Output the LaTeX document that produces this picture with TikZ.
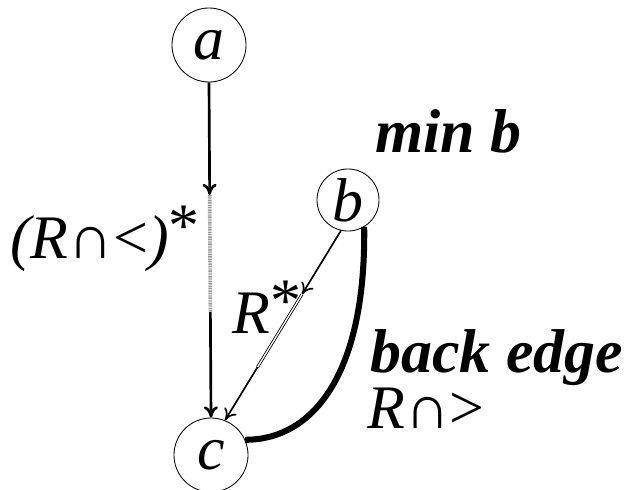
\documentclass[tikz,border=0pt]{standalone}
\usepackage{fontspec}
\setmainfont{Liberation Serif}
\usetikzlibrary{arrows.meta,calc,positioning}

\newcommand{\cp}{\textup{∩}}
\newcommand{\st}{\raisebox{8pt}{\textup{*}}}

\tikzset{
  vertex/.style={circle, draw, line width=0.6pt, inner sep=0pt, font=\itshape},
  lbl/.style={inner sep=0pt, anchor=base west, font=\itshape},
  boldlbl/.style={inner sep=0pt, anchor=base west, font=\bfseries\itshape},
  arc/.style={-{To[length=8pt,width=10pt]}},
}

\begin{document}
\begin{tikzpicture}[x=0.025cm, y=0.025cm]
\fontsize{44}{50}\selectfont
\useasboundingbox (0,0) rectangle (628,489);
% Nodes
\node[vertex, minimum size=1.85cm] (a) at (209,444) {a};
\node[vertex, minimum size=1.55cm] (b) at (348,289) {b};
\node[vertex, minimum size=1.85cm] (c) at (211,34) {c};
% Path a -> c
\coordinate (ac1) at ($(a.south)!0.336!(c.north)$);
\coordinate (ac2) at ($(a.south)!0.685!(c.north)$);
\draw[arc, line width=1.9pt] (a.south) -- (ac1);
\draw[gray!80, line width=2.6pt, dash pattern=on 0.7pt off 0.5pt] (ac1) -- (ac2);
\draw[arc, line width=1.9pt] (ac2) -- (c.north);
% Path b -> c
\coordinate (bc1) at ($(b.-103)!0.336!(c.68)$);
\coordinate (bc2) at ($(b.-103)!0.72!(c.68)$);
\draw[arc, line width=1.2pt] (b.-103) -- (bc1);
\draw[double=white, line width=0.6pt, double distance=0.9pt] (bc1) -- (bc2);
\draw[arc, line width=1.2pt] (bc2) -- (c.68);
% back edge
\draw[line width=4.3pt] (b.-59) .. controls (366,110) and (310,49) .. (c.24);
% Labels
\node[boldlbl] (minb) at (375,337) {min b};
\node[lbl] (star1) at (10,231) {(R\cp\textup{<})\st};
\node[lbl] (star2) at (232,156) {R\st};
\node[boldlbl] (back) at (370,117) {back edge};
\node[lbl] (gt) at (367,61) {R\cp\textup{>}};
\end{tikzpicture}
\end{document}
